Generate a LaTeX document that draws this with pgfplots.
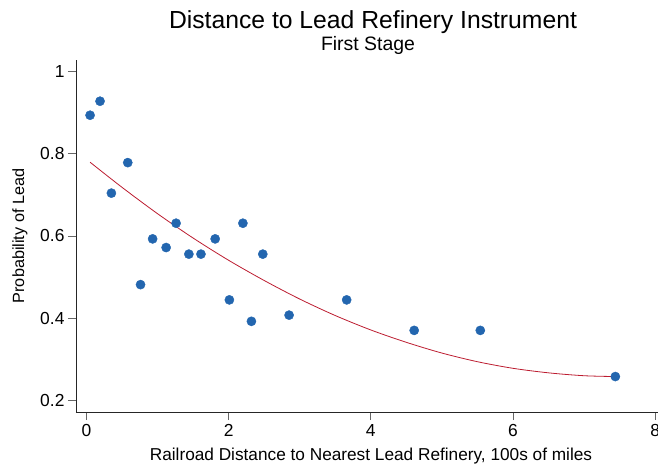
\documentclass[border=0pt]{standalone}
\usepackage{fontspec}
\setmainfont{Liberation Sans}
\usepackage{pgfplots}
\pgfplotsset{compat=1.18}
\definecolor{dotblue}{RGB}{35,102,175}
\definecolor{fitred}{RGB}{188,28,48}
\begin{document}
\begin{tikzpicture}
\useasboundingbox (-76bp,-54bp) rectangle (582bp,412bp);
\begin{axis}[
  scale only axis,
  width=582bp, height=352bp,
  xmin=-0.148, xmax=8.04,
  ymin=0.173, ymax=1.027,
  axis x line=bottom, axis y line=left,
  axis line style={-, black!85, line width=0.9bp},
  tick style={black!60, line width=0.9bp},
  tick align=outside, major tick length=8bp,
  xtick={0,2,4,6,8},
  ytick={0.2,0.4,0.6,0.8,1},
  yticklabels={0.2,0.4,0.6,0.8,1},
  /pgf/number format/assume math mode=true,
  ticklabel style={font=\fontsize{17.5}{20}\selectfont},
  xticklabel style={yshift=-1bp},
  xlabel={Railroad Distance to Nearest Lead Refinery, 100s of miles},
  ylabel={Probability of Lead},
  xlabel style={font=\fontsize{17.3}{20}\selectfont, at={(rel axis cs:0.5,0)}, anchor=base, yshift=-48bp, xshift=4bp},
  ylabel style={font=\fontsize{16.3}{19}\selectfont, at={([xshift=-56bp]rel axis cs:0,0.5)}, anchor=center},
  clip=false,
]
% quadratic fit
\addplot[fitred, line width=0.8bp, smooth] coordinates {
  (0.05,0.779) (0.5,0.718) (1.0,0.654) (1.5,0.595) (2.0,0.541)
  (2.5,0.492) (3.0,0.447) (3.5,0.407) (4.0,0.372) (4.5,0.342)
  (5.0,0.316) (5.5,0.295) (6.0,0.279) (6.5,0.268) (7.0,0.261)
  (7.44,0.259)
};
% observations
\addplot[only marks, mark=*, mark size=4.6bp, draw=dotblue, fill=dotblue] coordinates {
  (0.05,0.893) (0.19,0.927) (0.35,0.704) (0.58,0.778) (0.76,0.482)
  (0.93,0.593) (1.12,0.572) (1.26,0.631) (1.44,0.556) (1.61,0.556)
  (1.81,0.593) (2.01,0.445) (2.20,0.631) (2.32,0.393) (2.48,0.556)
  (2.85,0.408) (3.66,0.445) (4.61,0.371) (5.54,0.371) (7.44,0.259)
};
\end{axis}
\node[anchor=base, font=\fontsize{24.8}{29}\selectfont] at (297bp,383bp) {Distance to Lead Refinery Instrument};
\node[anchor=base, font=\fontsize{19.5}{23}\selectfont] at (292bp,361bp) {First Stage};
\end{tikzpicture}
\end{document}
